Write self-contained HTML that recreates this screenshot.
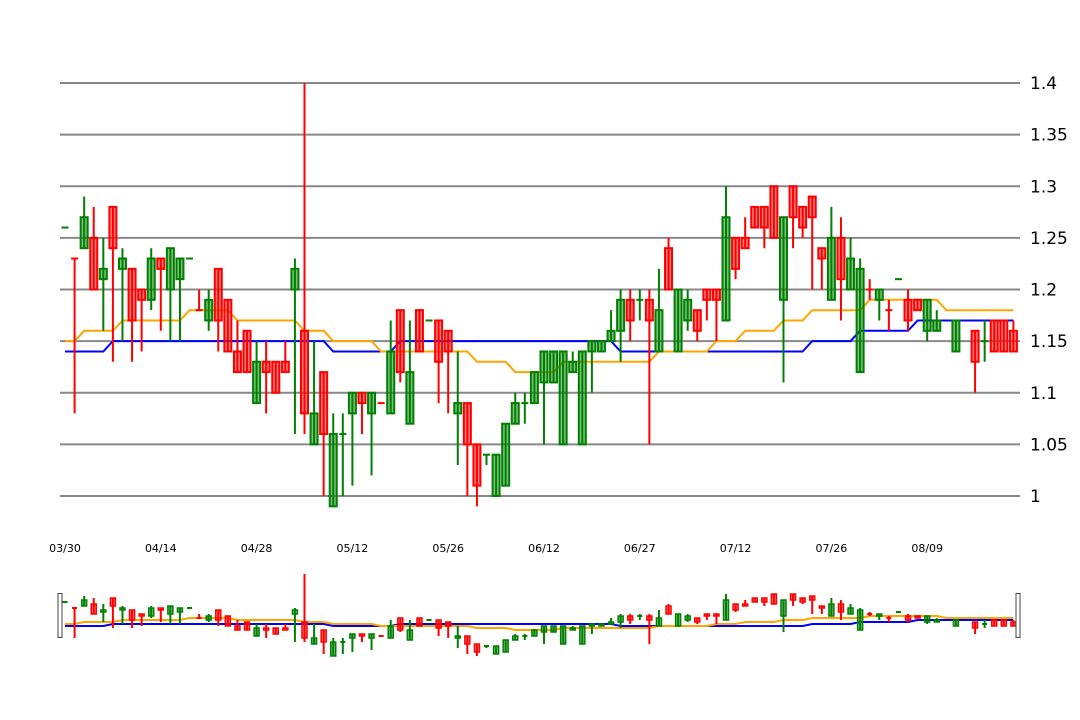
<!DOCTYPE html>
<html><head><meta charset="utf-8">
<style>
html,body{margin:0;padding:0;background:#fff;}
svg{display:block;font-family:"DejaVu Sans","Liberation Sans",sans-serif;}
</style></head>
<body>
<svg id="chart" width="1080" height="720" viewBox="0 0 1080 720">
<g id="grid"></g>
<g id="ylab"></g>
<g id="xlab"></g>
<g id="main"></g>
<g id="nav"></g>
</svg>
<script>
const dates=["03/30","04/14","04/28","05/12","05/26","06/12","06/27","07/12","07/26","08/09"];
const yTicks=[1,1.05,1.1,1.15,1.2,1.25,1.3,1.35,1.4];
const yTickLabels=["1","1.05","1.1","1.15","1.2","1.25","1.3","1.35","1.4"];
const openV=[1.26,1.23,1.24,1.25,1.21,1.28,1.22,1.22,1.20,1.19,1.23,1.20,1.21,1.23,1.18,1.17,1.22,1.19,1.14,1.16,1.09,1.13,1.13,1.13,1.20,1.16,1.05,1.12,0.99,1.06,1.08,1.10,1.08,1.09,1.08,1.18,1.07,1.18,1.17,1.17,1.16,1.08,1.09,1.05,1.04,1.00,1.01,1.07,1.09,1.09,1.11,1.11,1.05,1.12,1.05,1.14,1.14,1.15,1.16,1.19,1.19,1.19,1.14,1.24,1.14,1.17,1.18,1.20,1.20,1.17,1.25,1.25,1.28,1.28,1.30,1.19,1.30,1.28,1.29,1.24,1.19,1.25,1.20,1.12,1.20,1.19,1.18,1.21,1.19,1.19,1.16,1.16,null,1.14,null,1.16,1.15,1.17,1.17,1.16];
const closeV=[1.26,1.23,1.27,1.20,1.22,1.24,1.23,1.17,1.19,1.23,1.22,1.24,1.23,1.23,1.18,1.19,1.17,1.14,1.12,1.12,1.13,1.12,1.10,1.12,1.22,1.08,1.08,1.06,1.06,1.06,1.10,1.09,1.10,1.09,1.14,1.12,1.12,1.14,1.17,1.13,1.14,1.09,1.05,1.01,1.04,1.04,1.07,1.09,1.09,1.12,1.14,1.14,1.14,1.13,1.14,1.15,1.15,1.16,1.19,1.17,1.19,1.17,1.18,1.20,1.20,1.19,1.16,1.19,1.19,1.27,1.22,1.24,1.26,1.26,1.25,1.27,1.27,1.26,1.27,1.23,1.25,1.21,1.23,1.22,1.20,1.20,1.18,1.21,1.17,1.18,1.19,1.17,null,1.17,null,1.13,1.15,1.14,1.14,1.14];
const highV=[1.26,1.23,1.29,1.28,1.25,1.28,1.24,1.22,1.20,1.24,1.23,1.24,1.23,1.23,1.20,1.20,1.22,1.19,1.17,1.16,1.15,1.15,1.13,1.15,1.23,1.40,1.15,1.12,1.08,1.08,1.10,1.10,1.10,1.09,1.17,1.18,1.17,1.18,1.17,1.17,1.16,1.14,1.09,1.05,1.04,1.04,1.07,1.10,1.10,1.12,1.14,1.14,1.14,1.14,1.14,1.15,1.15,1.18,1.20,1.20,1.20,1.20,1.22,1.25,1.20,1.20,1.18,1.20,1.20,1.30,1.25,1.27,1.28,1.28,1.30,1.27,1.30,1.28,1.29,1.24,1.28,1.27,1.25,1.23,1.21,1.20,1.19,1.21,1.20,1.19,1.19,1.18,null,1.17,null,1.16,1.17,1.17,1.17,1.17];
const lowV=[1.26,1.08,1.24,1.20,1.16,1.13,1.15,1.13,1.14,1.18,1.16,1.15,1.15,1.23,1.18,1.16,1.14,1.14,1.12,1.12,1.09,1.08,1.10,1.12,1.06,1.06,1.05,1.00,0.99,1.00,1.01,1.06,1.02,1.09,1.08,1.11,1.07,1.14,1.17,1.09,1.08,1.03,1.00,0.99,1.03,1.00,1.01,1.07,1.07,1.09,1.05,1.11,1.05,1.12,1.05,1.10,1.14,1.15,1.13,1.15,1.17,1.05,1.14,1.20,1.14,1.16,1.15,1.17,1.15,1.17,1.21,1.24,1.26,1.24,1.25,1.11,1.24,1.25,1.20,1.20,1.19,1.17,1.20,1.12,1.19,1.17,1.16,1.21,1.16,1.18,1.15,1.16,null,1.14,null,1.10,1.13,1.14,1.14,1.14];
const blueV=[1.14,1.14,1.14,1.14,1.14,1.15,1.15,1.15,1.15,1.15,1.15,1.15,1.15,1.15,1.15,1.15,1.15,1.15,1.15,1.15,1.15,1.15,1.15,1.15,1.15,1.15,1.15,1.15,1.14,1.14,1.14,1.14,1.14,1.14,1.14,1.15,1.15,1.15,1.15,1.15,1.15,1.15,1.15,1.15,1.15,1.15,1.15,1.15,1.15,1.15,1.15,1.15,1.15,1.15,1.15,1.15,1.15,1.15,1.14,1.14,1.14,1.14,1.14,1.14,1.14,1.14,1.14,1.14,1.14,1.14,1.14,1.14,1.14,1.14,1.14,1.14,1.14,1.14,1.15,1.15,1.15,1.15,1.15,1.16,1.16,1.16,1.16,1.16,1.16,1.17,1.17,1.17,1.17,1.17,1.17,1.17,1.17,1.17,1.17,1.17];
const orangeV=[1.15,1.15,1.16,1.16,1.16,1.16,1.17,1.17,1.17,1.17,1.17,1.17,1.17,1.18,1.18,1.18,1.18,1.18,1.17,1.17,1.17,1.17,1.17,1.17,1.17,1.16,1.16,1.16,1.15,1.15,1.15,1.15,1.15,1.14,1.14,1.14,1.14,1.14,1.14,1.14,1.14,1.14,1.14,1.13,1.13,1.13,1.13,1.12,1.12,1.12,1.12,1.12,1.13,1.13,1.13,1.13,1.13,1.13,1.13,1.13,1.13,1.13,1.14,1.14,1.14,1.14,1.14,1.14,1.15,1.15,1.15,1.16,1.16,1.16,1.16,1.17,1.17,1.17,1.18,1.18,1.18,1.18,1.18,1.18,1.19,1.19,1.19,1.19,1.19,1.19,1.19,1.19,1.18,1.18,1.18,1.18,1.18,1.18,1.18,1.18];

const NS="http://www.w3.org/2000/svg";
const N=openV.length;
const x0=65, dx=(1013.4-65)/(N-1);
function xS(i){return x0+i*dx;}
function yS(v){return 496-(v-1)*1032.5;}
function yN(v){return 624-(v-1.15)*200;}
function mk(tag,attrs,parent){const e=document.createElementNS(NS,tag);for(const k in attrs)e.setAttribute(k,attrs[k]);parent.appendChild(e);return e;}

const grid=document.getElementById('grid'), ylab=document.getElementById('ylab'), xlab=document.getElementById('xlab');
yTicks.forEach((v,k)=>{
  const l=mk('line',{x1:60,x2:1020,y1:yS(v),y2:yS(v),stroke:'#888',"stroke-width":2},grid);
  
  
  const t=mk('text',{x:1030,y:yS(v)+6,"font-size":17,fill:'#000'},ylab);
  t.textContent=yTickLabels[k];
  
  
});
dates.forEach((d,k)=>{
  const t=mk('text',{x:xS(k*10),y:552,"font-size":11,fill:'#000',"text-anchor":'middle'},xlab);
  t.textContent=d;
  
  
});

function drawCandles(g,ys,bw,sw){
  let prev=null;
  for(let i=0;i<N;i++){
    const o=openV[i],c=closeV[i],h=highV[i],l=lowV[i];
    if(o===null){continue;}
    let up = c>o ? true : (c<o ? false : (prev===null || c>=prev));
    prev=c;
    const col=up?'#008000':'#ff0000', fill=up?'rgba(0,128,0,0.5)':'rgba(255,0,0,0.5)';
    const x=xS(i);
    const cg=mk('g',{},g);
    
    
    mk('line',{x1:x,x2:x,y1:ys(h),y2:ys(l),stroke:col,"stroke-width":2},cg);
    const top=ys(Math.max(o,c)), bot=ys(Math.min(o,c));
    if(bot-top<1){
      mk('line',{x1:x-bw/2,x2:x+bw/2,y1:top,y2:top,stroke:col,"stroke-width":2},cg);
    } else {
      mk('rect',{x:x-bw/2,y:top,width:bw,height:bot-top,fill:fill,stroke:col,"stroke-width":sw},cg);
    }
  }
}
function drawLine(g,vals,ys,col,name){
  const p=vals.map((v,i)=>(i?'L':'M')+xS(i).toFixed(1)+','+ys(v).toFixed(1)).join(' ');
  const e=mk('path',{d:p,fill:'none',stroke:col,"stroke-width":2},g);
  
  
}
const main=document.getElementById('main');
drawLine(main,blueV,yS,'#0000ff','blue-line');
drawLine(main,orangeV,yS,'#ffa500','orange-line');
drawCandles(main,yS,7,2);

const nav=document.getElementById('nav');
drawLine(nav,blueV,yN,'#0000ff','nav-blue-line');
drawLine(nav,orangeV,yN,'#ffa500','nav-orange-line');
drawCandles(nav,yN,5,1.5);
const hl=mk('rect',{x:58,y:593.5,width:4,height:44,fill:'#fff',stroke:'#444',"stroke-width":1},nav);


const hr=mk('rect',{x:1016,y:593.5,width:4,height:44,fill:'#fff',stroke:'#444',"stroke-width":1},nav);


</script>
</body></html>
